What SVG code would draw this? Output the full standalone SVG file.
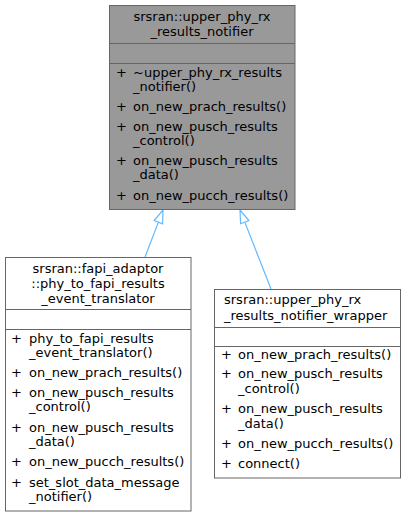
<svg xmlns="http://www.w3.org/2000/svg" width="405" height="516" viewBox="0 0 405 516">
<style>
text{font-family:"DejaVu Sans",Verdana,sans-serif;font-size:13px;fill:#000}
.c{text-anchor:middle}
.box{stroke:#666666;stroke-width:1}
.sep{stroke:#666666;stroke-width:1}
.edge{stroke:#63b8ff;stroke-width:1.2;fill:none}
.head{stroke:#63b8ff;stroke-width:1.2;fill:#ffffff}
</style>
<rect width="405" height="516" fill="#ffffff"/>
<g id="connectors">
<line class="edge" x1="145" y1="257" x2="158.4" y2="222.1"/>
<polygon class="head" points="163,210 154.2,220.5 162.6,223.8"/>
<line class="edge" x1="271" y1="289" x2="244.8" y2="222.1"/>
<polygon class="head" points="240,210 248.9,220.5 240.6,223.7"/>
</g>
<g id="node_upper_phy_rx_results_notifier">
<rect class="box" x="109.5" y="5.5" width="185.5" height="204" fill="#999999"/>
<line class="sep" x1="109.5" y1="43.5" x2="295" y2="43.5"/>
<line class="sep" x1="109.5" y1="63.5" x2="295" y2="63.5"/>
<text class="c" x="202" y="21">srsran::upper_phy_rx</text>
<text class="c" x="202" y="36">_results_notifier</text>
<text x="116" y="77">+</text><text x="133" y="77">~upper_phy_rx_results</text>
<text x="133" y="91">_notifier()</text>
<text x="116" y="111">+</text><text x="133" y="111">on_new_prach_results()</text>
<text x="116" y="131">+</text><text x="133" y="131">on_new_pusch_results</text>
<text x="133" y="145">_control()</text>
<text x="116" y="165">+</text><text x="133" y="165">on_new_pusch_results</text>
<text x="133" y="179">_data()</text>
<text x="116" y="200">+</text><text x="133" y="200">on_new_pucch_results()</text>
</g>
<g id="node_phy_to_fapi_results_event_translator">
<rect class="box" x="5.5" y="257.5" width="185.5" height="253.5" fill="#ffffff"/>
<line class="sep" x1="5.5" y1="309.5" x2="191" y2="309.5"/>
<line class="sep" x1="5.5" y1="329.5" x2="191" y2="329.5"/>
<text class="c" x="98" y="273">srsran::fapi_adaptor</text>
<text class="c" x="98" y="288">::phy_to_fapi_results</text>
<text class="c" x="98" y="303">_event_translator</text>
<text x="11" y="343">+</text><text x="29" y="343">phy_to_fapi_results</text>
<text x="29" y="357">_event_translator()</text>
<text x="11" y="377">+</text><text x="29" y="377">on_new_prach_results()</text>
<text x="11" y="397">+</text><text x="29" y="397">on_new_pusch_results</text>
<text x="29" y="411">_control()</text>
<text x="11" y="432">+</text><text x="29" y="432">on_new_pusch_results</text>
<text x="29" y="446">_data()</text>
<text x="11" y="466">+</text><text x="29" y="466">on_new_pucch_results()</text>
<text x="11" y="487">+</text><text x="29" y="487">set_slot_data_message</text>
<text x="29" y="501">_notifier()</text>
</g>
<g id="node_upper_phy_rx_results_notifier_wrapper">
<rect class="box" x="214.5" y="289.5" width="186" height="188.5" fill="#ffffff"/>
<line class="sep" x1="214.5" y1="327.5" x2="400.5" y2="327.5"/>
<line class="sep" x1="214.5" y1="346.5" x2="400.5" y2="346.5"/>
<text x="224" y="304">srsran::upper_phy_rx</text>
<text x="224" y="320">_results_notifier_wrapper</text>
<text x="221" y="359">+</text><text x="238" y="359">on_new_prach_results()</text>
<text x="221" y="378">+</text><text x="238" y="378">on_new_pusch_results</text>
<text x="238" y="393">_control()</text>
<text x="221" y="413">+</text><text x="238" y="413">on_new_pusch_results</text>
<text x="238" y="428">_data()</text>
<text x="221" y="448">+</text><text x="238" y="448">on_new_pucch_results()</text>
<text x="221" y="468">+</text><text x="238" y="468">connect()</text>
</g>
</svg>
